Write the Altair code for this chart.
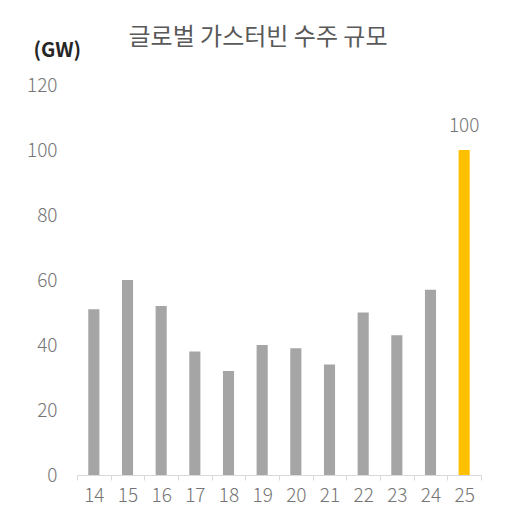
import altair as alt
import pandas as pd

years = ["14", "15", "16", "17", "18", "19", "20", "21", "22", "23", "24", "25"]
values = [51, 60, 52, 38, 32, 40, 39, 34, 50, 43, 57, 100]
colors = ["#a5a5a5"] * 11 + ["#ffc000"]
labels = [""] * 11 + ["100"]

df = pd.DataFrame({"year": years, "value": values, "color": colors, "label": labels})

FONT = "Noto Sans CJK KR"
LABEL_COLOR = "#757575"

base = alt.Chart(df)

bars = base.mark_bar(width=alt.RelativeBandSize(0.33)).encode(
    x=alt.X(
        "year:N",
        sort=None,
        title=None,
        scale=alt.Scale(paddingInner=0, paddingOuter=0),
        axis=alt.Axis(
            labelAngle=0,
            tickBand="extent",
            domainColor="#d9d9d9",
            tickColor="#d9d9d9",
            tickSize=5,
            labelPadding=6,
            labelFontSize=19,
            labelFontWeight=300,
            labelColor=LABEL_COLOR,
            labelFont=FONT,
            grid=False,
        ),
    ),
    y=alt.Y(
        "value:Q",
        scale=alt.Scale(domain=[0, 120]),
        axis=alt.Axis(
            values=[0, 20, 40, 60, 80, 100, 120],
            ticks=False,
            domain=False,
            grid=False,
            labelPadding=20,
            labelFontSize=19,
            labelFontWeight=300,
            labelColor=LABEL_COLOR,
            labelFont=FONT,
            title="(GW)",
            titleAngle=0,
            titleAlign="left",
            titleBaseline="middle",
            titleX=-44,
            titleY=-35,
            titleFontSize=20,
            titleFont=FONT,
            titleFontWeight="bold",
            titleColor="#262626",
        ),
    ),
    color=alt.Color("color:N", scale=None, legend=None),
)

text = base.transform_filter(alt.datum.label != "").mark_text(
    dy=-24, fontSize=19, fontWeight=300, color=LABEL_COLOR, font=FONT, baseline="middle"
).encode(x=alt.X("year:N", sort=None), y="value:Q", text="label:N")

chart = (
    alt.layer(bars, text)
    .properties(
        width=404,
        height=390,
        title=alt.TitleParams(
            text="글로벌 가스터빈 수주 규모",
            anchor="middle",
            frame="group",
            dx=-21,
            offset=-10,
            fontSize=24,
            font=FONT,
            fontWeight="normal",
            color="#595959",
        ),
        padding={"left": 69, "top": 77, "right": 25, "bottom": 43},
        autosize=alt.AutoSizeParams(type="none"),
    )
    .configure_view(stroke=None)
)

chart.save("out.html", embed_options={"renderer": "svg", "actions": False})
